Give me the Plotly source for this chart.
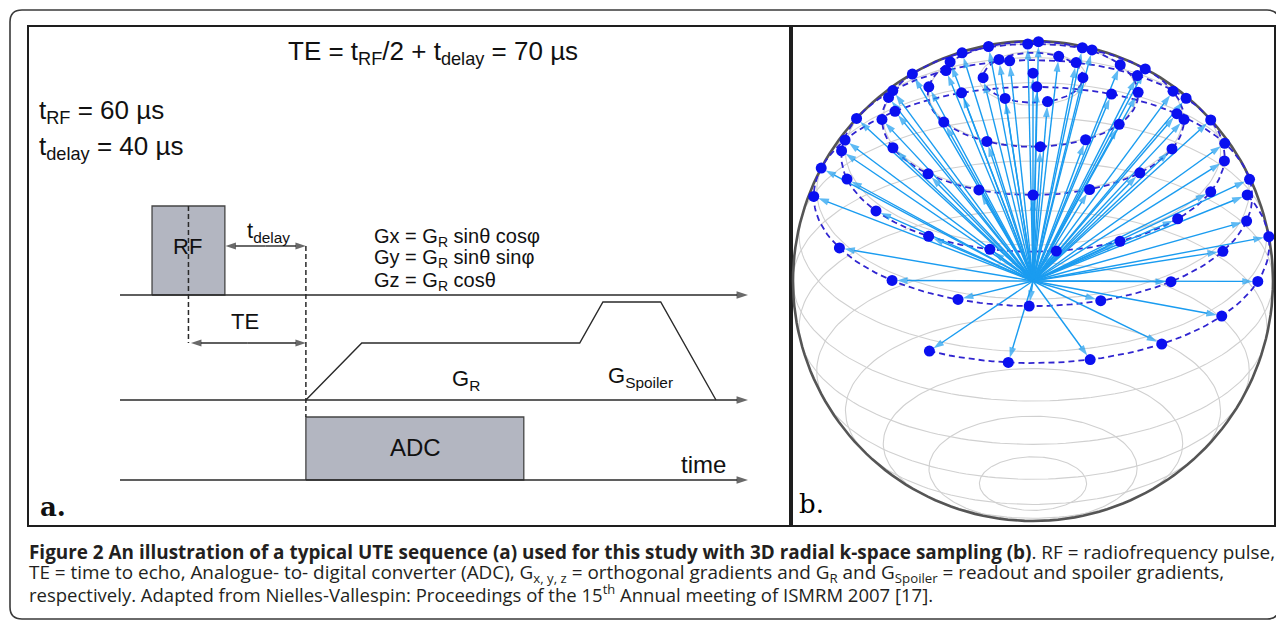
import numpy as np
import plotly.graph_objects as go

# page body has an 8 px margin, so the figure is drawn 8 px in from the window corner
OFF = 8
W, H = 1284 - OFF, 622 - OFF

# ---------------- timing quoted in the figure (µs) ----------------
t_rf_us = 60
t_delay_us = 40
te_us = 70

# ---------------- panel a : schematic UTE sequence ----------------
# diagram time units (schematic, not to scale), channel levels in diagram units
seq_axis = [0.0, 100.0]
chan_names = ["RF", "G", "ADC"]
chan_base = [18.5, 8.0, 0.0]
rf_on = [5.1, 16.7]
rf_height = 8.9
grad_t = [29.6, 38.5, 73.2, 76.9, 86.1, 94.9]
grad_h = [0.0, 5.7, 5.7, 9.8, 9.8, 0.0]
adc_on = [29.6, 64.3]
adc_height = 6.3
delay_arrow_level = 23.4
te_arrow_level = 13.7

# ---------------- panel b : 3D radial k-space sampling ----------------
elev_deg = 30.0
pole_theta = 0.0
ring_theta = [12, 26, 39, 53, 66, 80]
ring_phi = [
    [180, 133, 59, 0, -73, -124],
    [172, 142, 115, 87, 62, 34, 2, -35, -60, -86, -116, -148],
    [180, 163, 143, 118, 92, 67, 42, 22, 0, -23, -45, -68, -90, -111, -134, -158],
    [177, 157, 137, 117, 97, 77, 57, 37, 22, -3, -22, -41, -63, -83, -103, -123, -145, -166],
    [180, 165, 149, 129, 109, 89, 69, 49, 29, 9, -13, -30, -51, -72, -91, -110, -130, -152],
    [-116, -96, -76, -57, -37, -18, 4, 25],
]
ring_closed = [True, True, True, True, True, False]
lat_grid_deg = [12.9, 25.7, 38.6, 51.4, 64.3, 77.1, 90.0, 102.9, 115.7, 128.6, 141.4, 154.3, 167.1]

# ---------------- colours ----------------
INK = "#2a2a2a"
BOX_FILL = "#b3b6c1"
ARROW_BLUE = "#1a9cf0"
DOT_BLUE = "#0a10f0"
RING_BLUE = "#3025d0"
GRID_GREY = "#d0d0d0"

# pixel geometry (window pixels) of the two panels
PA = dict(x0=29, x1=791, y0=27, y1=525)
PB = dict(x0=791, x1=1274, y0=27, y1=525)

def fx(p):
    return (p - OFF) / W

def fy(p):
    return 1 - (p - OFF) / H

def dom_x(p):
    return [fx(p["x0"]), fx(p["x1"])]

def dom_y(p):
    return [fy(p["y1"]), fy(p["y0"])]

# panel a axis ranges (schematic units): 6.28 px per time unit, 10 px per level unit
xa_range = [(PA["x0"] - 120) / 6.28, (PA["x1"] - 120) / 6.28]
ya_range = [(480 - PA["y1"]) / 10.0, (480 - PA["y0"]) / 10.0]
# panel b ranges: unit sphere, centre at window pixel (1033, 281), radius 240 px
xb_range = [(PB["x0"] - 1033) / 240.0, (PB["x1"] - 1033) / 240.0]
yb_range = [(281 - PB["y1"]) / 240.0, (281 - PB["y0"]) / 240.0]

fig = go.Figure()
ann = []

def arrow_trace(segs, color, width, head, standoff, xa, ya):
    """segs: list of ((x_from, y_from), (x_to, y_to)); arrow head at x_to."""
    xs, ys, sz = [], [], []
    for (a, b) in segs:
        xs += [a[0], b[0], None]
        ys += [a[1], b[1], None]
        sz += [0, head, 0]
    return go.Scatter(
        x=xs, y=ys, mode="lines+markers",
        line=dict(color=color, width=width),
        marker=dict(symbol="arrow", angleref="previous", size=sz, color=color,
                    standoff=standoff, line=dict(width=0)),
        xaxis=xa, yaxis=ya, hoverinfo="skip")

# ---------------- panel a traces ----------------
rf_b = chan_base[0]
fig.add_trace(go.Scatter(
    x=[rf_on[0], rf_on[0], rf_on[1], rf_on[1], rf_on[0]],
    y=[rf_b, rf_b + rf_height, rf_b + rf_height, rf_b, rf_b],
    fill="toself", fillcolor=BOX_FILL, mode="lines",
    line=dict(color="#454545", width=1.3), xaxis="x", yaxis="y", hoverinfo="skip"))
g_b = chan_base[1]
fig.add_trace(go.Scatter(
    x=grad_t, y=[g_b + h for h in grad_h], mode="lines",
    line=dict(color=INK, width=1.4), xaxis="x", yaxis="y", hoverinfo="skip"))
a_b = chan_base[2]
fig.add_trace(go.Scatter(
    x=[adc_on[0], adc_on[0], adc_on[1], adc_on[1], adc_on[0]],
    y=[a_b, a_b + adc_height, a_b + adc_height, a_b, a_b],
    fill="toself", fillcolor=BOX_FILL, mode="lines",
    line=dict(color="#454545", width=1.3), xaxis="x", yaxis="y", hoverinfo="skip"))
rf_mid = (rf_on[0] + rf_on[1]) / 2
fig.add_trace(go.Scatter(
    x=[rf_mid, rf_mid, None, adc_on[0], adc_on[0]],
    y=[rf_b + rf_height, te_arrow_level, None, delay_arrow_level, a_b + adc_height],
    mode="lines", line=dict(color=INK, width=1.5, dash="5px,3px"),
    xaxis="x", yaxis="y", hoverinfo="skip"))

# channel axes with arrow heads
fig.add_trace(arrow_trace([((seq_axis[0], b), (seq_axis[1], b)) for b in chan_base],
                          INK, 1.6, 12, 0, "x", "y"))
# t_delay and TE double arrows
d_mid = (rf_on[1] + adc_on[0]) / 2
t_mid = (rf_mid + adc_on[0]) / 2
fig.add_trace(arrow_trace([
    ((d_mid, delay_arrow_level), (rf_on[1] + 0.1, delay_arrow_level)),
    ((d_mid, delay_arrow_level), (adc_on[0], delay_arrow_level)),
    ((t_mid, te_arrow_level), (rf_mid + 0.4, te_arrow_level)),
    ((t_mid, te_arrow_level), (adc_on[0], te_arrow_level)),
], INK, 1.4, 11, 0, "x", "y"))

# ---------------- panel b traces ----------------
e = np.radians(elev_deg)

def proj(theta_deg, phi_deg):
    th = np.radians(np.asarray(theta_deg, dtype=float))
    ph = np.radians(np.asarray(phi_deg, dtype=float))
    return (np.sin(th) * np.cos(ph),
            np.cos(th) * np.cos(e) + np.sin(th) * np.sin(ph) * np.sin(e))

# latitude wire-frame
gx, gy = [], []
full = np.linspace(0, 360, 181)
for th in lat_grid_deg:
    x, y = proj(np.full_like(full, th), full)
    gx += list(x) + [None]
    gy += list(y) + [None]
fig.add_trace(go.Scatter(x=gx, y=gy, mode="lines", line=dict(color=GRID_GREY, width=1.1),
                         xaxis="x2", yaxis="y2", hoverinfo="skip"))
# sphere outline
ox, oy = np.cos(np.radians(full)), np.sin(np.radians(full))
fig.add_trace(go.Scatter(x=ox, y=oy, mode="lines", line=dict(color="#555555", width=2.6),
                         xaxis="x2", yaxis="y2", hoverinfo="skip"))
# dashed sampling rings
rx, ry = [], []
for th, phis, closed in zip(ring_theta, ring_phi, ring_closed):
    pp = full if closed else np.linspace(min(phis), max(phis), 80)
    x, y = proj(np.full_like(pp, th), pp)
    rx += list(x) + [None]
    ry += list(y) + [None]
fig.add_trace(go.Scatter(x=rx, y=ry, mode="lines",
                         line=dict(color=RING_BLUE, width=1.8, dash="6px,4px"),
                         xaxis="x2", yaxis="y2", hoverinfo="skip"))
# sample points
px, py = [], []
x0, y0 = proj([pole_theta], [0])
px += list(x0); py += list(y0)
for th, phis in zip(ring_theta, ring_phi):
    x, y = proj([th] * len(phis), phis)
    px += list(x); py += list(y)
# radial spokes from the k-space centre
fig.add_trace(arrow_trace([((0.0, 0.0), (float(x), float(y))) for x, y in zip(px, py)],
                          ARROW_BLUE, 1.4, 11, 5, "x2", "y2"))
fig.add_trace(go.Scatter(x=px, y=py, mode="markers",
                         marker=dict(color=DOT_BLUE, size=11, line=dict(width=0)),
                         xaxis="x2", yaxis="y2", hoverinfo="skip"))

# ---------------- texts ----------------
AR = "Liberation Sans, Arial, sans-serif"

def ptext(txt, x, y, size, xanchor="center", family=AR, color="#111111"):
    ann.append(dict(text=txt, x=fx(x), y=fy(y), xref="paper", yref="paper",
                    xanchor=xanchor, yanchor="middle", showarrow=False,
                    font=dict(family=family, size=size, color=color)))

ptext(f"TE = t<sub>RF</sub>/2 + t<sub>delay</sub> = {te_us} µs", 433, 52, 26)
ptext(f"t<sub>RF</sub> = {t_rf_us} µs", 37, 112, 26, xanchor="left")
ptext(f"t<sub>delay</sub> = {t_delay_us} µs", 37, 147, 26, xanchor="left")
ptext("RF", 188, 247, 22)
ptext("t<sub>delay</sub>", 268, 232, 22)
ptext("TE", 245, 321, 22)
ptext("Gx = G<sub>R</sub> sinθ cosφ", 372, 238, 20, xanchor="left")
ptext("Gy = G<sub>R</sub> sinθ sinφ", 372, 259, 20, xanchor="left")
ptext("Gz = G<sub>R</sub> cosθ", 372, 281, 20, xanchor="left")
ptext("G<sub>R</sub>", 466, 380, 22)
ptext("G<sub>Spoiler</sub>", 640, 377, 22)
ptext("ADC", 415, 447, 24)
ptext("time", 703, 464, 24)
ptext("<b>a.</b>", 53, 507, 26, family="DejaVu Serif")
ptext("b.", 811, 504, 26, family="DejaVu Serif", color="#000000")

CAP = "Open Sans, sans-serif"
cap_lines = [
    "<b>Figure 2 An illustration of a typical UTE sequence (a) used for this study with 3D radial k-space sampling (b)</b>. RF = radiofrequency pulse,",
    "TE = time to echo, Analogue- to- digital converter (ADC), G<sub>x, y, z</sub> = orthogonal gradients and G<sub>R</sub> and G<sub>Spoiler</sub> = readout and spoiler gradients,",
    "respectively. Adapted from Nielles-Vallespin: Proceedings of the 15<sup>th</sup> Annual meeting of ISMRM 2007 [17].",
]
cap_sizes = [18.9, 18.9, 18.5]
for txt, yy, fs in zip(cap_lines, [552, 573, 593], cap_sizes):
    ptext(txt, 27, yy, fs, xanchor="left", family=CAP, color="#231f20")

# outer rounded frame
L, T, R_, B, r = fx(10), fy(10), fx(1279), fy(619), 12
rx_, ry_ = r / W, r / H
frame = (f"M{L + rx_},{T} L{R_ - rx_},{T} Q{R_},{T} {R_},{T - ry_} "
         f"L{R_},{B + ry_} Q{R_},{B} {R_ - rx_},{B} L{L + rx_},{B} "
         f"Q{L},{B} {L},{B + ry_} L{L},{T - ry_} Q{L},{T} {L + rx_},{T} Z")

axis_common = dict(showgrid=False, zeroline=False, showticklabels=False, ticks="",
                   showline=True, mirror=True, linecolor="#1e1e1e", linewidth=2)
fig.update_layout(
    width=W, height=H, margin=dict(l=0, r=0, t=0, b=0),
    paper_bgcolor="white", plot_bgcolor="white", showlegend=False,
    xaxis=dict(domain=dom_x(PA), range=xa_range, **axis_common),
    yaxis=dict(domain=dom_y(PA), range=ya_range, **axis_common),
    xaxis2=dict(domain=dom_x(PB), range=xb_range, anchor="y2", **axis_common),
    yaxis2=dict(domain=dom_y(PB), range=yb_range, anchor="x2", **axis_common),
    annotations=ann,
    shapes=[dict(type="path", path=frame, xref="paper", yref="paper",
                 line=dict(color="#3a3a3a", width=1.6))],
)
fig.write_html("out.html")
